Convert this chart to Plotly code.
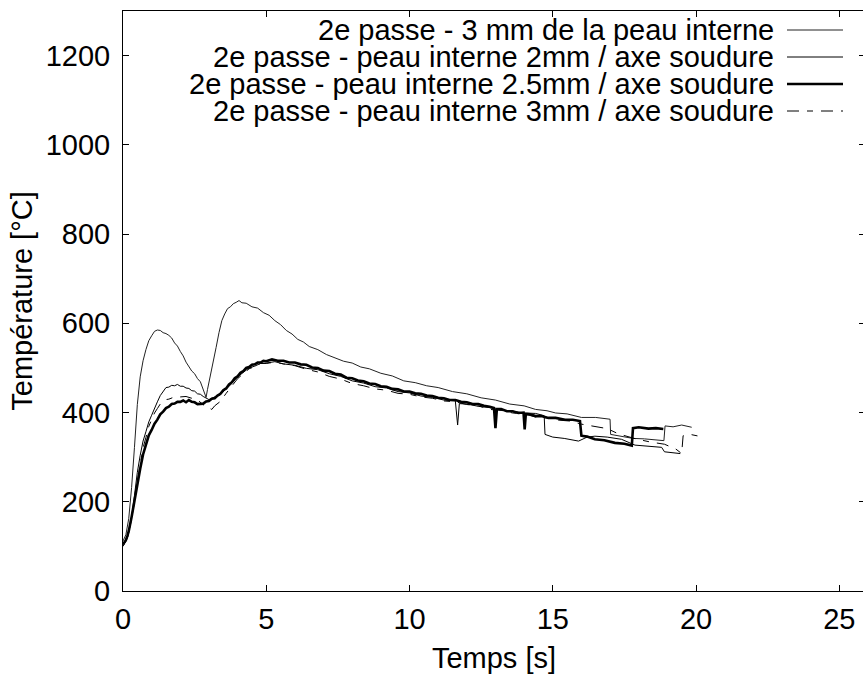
import plotly.graph_objects as go

# ---------------- data ----------------
names = [
    "2e passe - 3 mm de la peau interne",
    "2e passe - peau interne 2mm / axe soudure",
    "2e passe - peau interne 2.5mm / axe soudure",
    "2e passe - peau interne 3mm / axe soudure",
]

t1 = [0.0, 0.1, 0.2, 0.3, 0.4, 0.5, 0.6, 0.7, 0.8, 0.9, 1.0, 1.1, 1.2, 1.3, 1.4, 1.5, 1.6, 1.7, 1.8, 1.9,
      2.0, 2.1, 2.2, 2.3, 2.4, 2.5, 2.6, 2.7, 2.8, 2.85, 2.9, 2.95, 3.05, 3.15, 3.25, 3.35, 3.45, 3.55, 3.65, 3.75,
      3.85, 3.95, 4.05, 4.15, 4.3, 4.5, 4.7, 4.9, 5.1, 5.3, 5.5, 5.7, 5.9, 6.1, 6.3, 6.5, 6.8, 7.1, 7.4, 7.7,
      8.0, 8.3, 8.6, 9.0, 9.4, 9.8, 10.2, 10.6, 11.0, 11.5, 12.0, 12.5, 13.0, 13.5, 14.0, 14.4, 14.8, 15.1, 15.5, 16.0,
      16.5, 17.0, 17.02, 17.4, 17.8, 18.2, 18.6, 18.88, 18.92, 19.2, 19.5, 19.85]
T1 = [112, 126, 162, 232, 322, 418, 480, 516, 541, 561, 572, 582, 585, 584, 579, 577, 573, 567, 556, 549,
      537, 527, 513, 504, 493, 487, 476, 469, 452, 441, 434, 452, 481, 512, 546, 579, 606, 621, 633, 637,
      644, 647, 651, 646, 645, 637, 634, 624, 618, 606, 597, 584, 576, 564, 558, 548, 541, 530, 523, 515,
      511, 502, 498, 488, 482, 471, 467, 460, 456, 447, 442, 433, 428, 419, 415, 407, 404, 399, 397, 389,
      389, 385, 351, 347, 342, 341, 338, 337, 370, 368, 372, 367]

t2 = [0.0, 0.1, 0.2, 0.3, 0.4, 0.5, 0.6, 0.7, 0.8, 0.9, 1.0, 1.1, 1.2, 1.3, 1.4, 1.5, 1.6, 1.7, 1.8, 1.9,
      2.0, 2.1, 2.2, 2.3, 2.4, 2.5, 2.6, 2.7, 2.8, 2.9, 3.0, 3.2, 3.4, 3.6, 3.8, 4.0, 4.2, 4.4, 4.6, 4.8,
      5.0, 5.3, 5.6, 6.0, 6.4, 6.8, 7.2, 7.6, 8.0, 8.4, 8.8, 9.2, 9.6, 10.0, 10.4, 10.8, 11.2, 11.6, 11.68, 11.74,
      12.0, 12.4, 12.8, 13.2, 13.6, 14.0, 14.4, 14.7, 14.73, 15.0, 15.4, 15.9, 16.2, 16.47, 16.9, 17.4, 17.87, 18.3, 18.8, 18.9,
      19.2, 19.45]
T2 = [100, 113, 131, 166, 214, 266, 304, 336, 357, 379, 394, 411, 424, 438, 446, 456, 457, 461, 460, 463,
      459, 459, 455, 454, 449, 448, 442, 441, 436, 433, 429, 435, 440, 453, 465, 480, 489, 500, 504, 510,
      511, 514, 509, 506, 499, 496, 487, 481, 471, 466, 458, 455, 447, 444, 437, 434, 428, 426, 372, 420,
      419, 414, 411, 405, 403, 399, 398, 393, 351, 345, 342, 336, 345, 347, 345, 340, 327, 324, 322, 312,
      310, 308]

t3 = [0.0, 0.05, 0.1, 0.15, 0.2, 0.3, 0.4, 0.5, 0.6, 0.7, 0.8, 0.9, 1.0, 1.1, 1.2, 1.3, 1.4, 1.5, 1.6, 1.7,
      1.8, 1.9, 2.0, 2.1, 2.2, 2.3, 2.4, 2.5, 2.6, 2.7, 2.8, 2.9, 3.0, 3.1, 3.2, 3.3, 3.4, 3.5, 3.6, 3.7,
      3.8, 3.9, 4.0, 4.1, 4.2, 4.3, 4.4, 4.5, 4.6, 4.7, 4.8, 4.9, 5.0, 5.2, 5.4, 5.6, 5.8, 6.0, 6.2, 6.4,
      6.6, 6.8, 7.0, 7.2, 7.4, 7.6, 7.8, 8.0, 8.2, 8.4, 8.6, 8.8, 9.0, 9.2, 9.4, 9.6, 9.8, 10.0, 10.2, 10.4,
      10.6, 10.8, 11.0, 11.2, 11.4, 11.6, 11.8, 12.0, 12.2, 12.4, 12.6, 12.8, 12.95, 13.0, 13.05, 13.2, 13.4, 13.6, 13.8, 13.98,
      14.02, 14.06, 14.2, 14.4, 14.6, 14.85, 15.1, 15.43, 15.7, 15.95, 16.0, 16.2, 16.47, 16.8, 17.17, 17.5, 17.76, 17.8, 18.0, 18.34,
      18.6, 18.86]
T3 = [105, 109, 114, 123, 134, 166, 204, 241, 274, 306, 329, 349, 361, 375, 384, 396, 402, 410, 413, 419,
      420, 424, 424, 427, 423, 428, 424, 423, 419, 419, 420, 425, 426, 431, 432, 438, 442, 450, 454, 463,
      468, 477, 481, 489, 493, 500, 502, 507, 508, 512, 512, 516, 515, 519, 516, 516, 512, 512, 508, 507,
      501, 500, 494, 493, 487, 485, 478, 477, 472, 470, 465, 464, 459, 458, 453, 452, 447, 447, 443, 442,
      438, 437, 433, 432, 428, 428, 424, 423, 419, 419, 415, 413, 410, 365, 408, 408, 403, 403, 399, 400,
      362, 397, 396, 392, 392, 388, 388, 384, 384, 381, 348, 346, 340, 338, 332, 330, 326, 365, 367, 364,
      365, 363]

t4 = [0.0, 0.1, 0.2, 0.3, 0.4, 0.5, 0.6, 0.7, 0.8, 0.9, 1.0, 1.1, 1.2, 1.3, 1.4, 1.5, 1.6, 1.8, 2.0, 2.2,
      2.4, 2.6, 2.8, 3.0, 3.1, 3.2, 3.4, 3.6, 3.8, 4.0, 4.2, 4.4, 4.6, 4.8, 5.0, 5.3, 5.6, 6.0, 6.4, 6.8,
      7.2, 7.6, 8.0, 8.4, 8.8, 9.2, 9.6, 10.0, 10.4, 10.8, 11.2, 11.6, 12.0, 12.4, 12.8, 13.2, 13.6, 14.0, 14.4, 14.8,
      15.2, 15.6, 16.0, 16.4, 16.9, 17.3, 17.9, 18.4, 18.9, 19.3, 19.5, 19.55, 19.8, 20.1]
T4 = [101, 111, 127, 161, 199, 246, 284, 321, 344, 369, 384, 399, 409, 419, 423, 429, 430, 435, 435, 436,
      432, 429, 417, 411, 407, 415, 425, 443, 459, 476, 487, 498, 503, 510, 510, 513, 509, 505, 497, 491,
      481, 475, 465, 460, 453, 450, 443, 441, 435, 432, 426, 424, 418, 415, 407, 405, 399, 397, 390, 388,
      383, 381, 374, 369, 364, 352, 341, 334, 329, 318, 308, 348, 351, 347]

x_ticks = [0, 5, 10, 15, 20, 25]
y_ticks = [0, 200, 400, 600, 800, 1000, 1200]

# ---------------- figure ----------------
W, H = 865, 677               # 2 px wider than the window: the right frame line falls just outside
L, R, T, B = 123, 0, 11, 86
PW, PH = W - L - R, H - T - B
X_MAX = PW / 28.65
FONT = "Liberation Sans, Arial, Helvetica, sans-serif"
FS = 29

styles = [
    dict(color="#222222", width=1),
    dict(color="black", width=1),
    dict(color="black", width=2.6),
    dict(color="black", width=1, dash="12px,8px,6px,8px"),
]
series = [(t1, T1), (t2, T2), (t3, T3), (t4, T4)]

fig = go.Figure()
for (tx, ty), st, nm in zip(series, styles, names):
    fig.add_trace(go.Scatter(x=tx, y=ty, mode="lines", name=nm, line=st, showlegend=False))


def px_to_paper(px, py):
    # px, py are page pixels of the reference picture
    return (px - L) / PW, (H - B - py) / PH


# legend built from text + sample lines (sample on the right, as in the reference)
row_y = [30, 57, 84, 111]
for nm, st, ry in zip(names, styles, row_y):
    ax, ay = px_to_paper(776, ry)
    fig.add_annotation(x=ax, y=ay, xref="paper", yref="paper", text=nm, showarrow=False,
                       xanchor="right", yanchor="middle", font=dict(family=FONT, size=FS, color="black"))
    x0, y0 = px_to_paper(787, ry)
    x1, _ = px_to_paper(843, ry)
    fig.add_shape(type="line", xref="paper", yref="paper", x0=x0, x1=x1, y0=y0, y1=y0, line=st)

axis_common = dict(showline=True, linecolor="black", linewidth=1, ticks="inside",
                   ticklen=6, tickcolor="black", tickwidth=1, showgrid=False, zeroline=False,
                   tickfont=dict(family=FONT, size=FS, color="black"))

fig.update_xaxes(range=[0, X_MAX], tickvals=x_ticks, ticktext=[str(v) for v in x_ticks], mirror="ticks",
                 title=dict(text="Temps [s]", font=dict(family=FONT, size=FS, color="black"), standoff=13),
                 ticklabelstandoff=2, **axis_common)
fig.update_yaxes(range=[0, 1300], tickvals=y_ticks, ticktext=[str(v) for v in y_ticks], mirror="ticks",
                 title=dict(text="Température [°C]", font=dict(family=FONT, size=FS, color="black"), standoff=4),
                 ticklabelstandoff=6, **axis_common)

fig.update_layout(width=W, height=H, margin=dict(l=L, r=R, t=T, b=B, autoexpand=False),
                  paper_bgcolor="white", plot_bgcolor="white", showlegend=False,
                  font=dict(family=FONT, color="black"))

fig.write_html("out.html", config={"displayModeBar": False},
               post_script="document.body.style.margin='0';document.body.style.overflow='hidden';")
